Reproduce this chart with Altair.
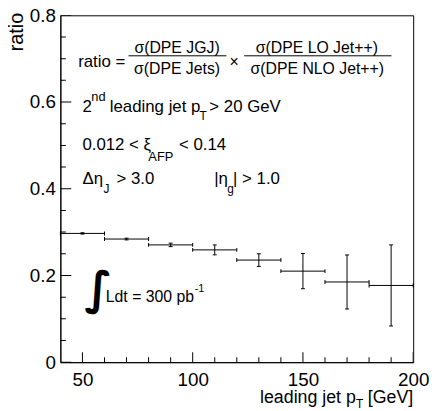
import altair as alt
import pandas as pd

# ---- data ----
bin_low = [40, 60, 80, 100, 120, 140, 160, 180]
bin_high = [60, 80, 100, 120, 140, 160, 180, 200]
bin_center = [50, 70, 90, 110, 130, 150, 170, 190]
ratio = [0.297, 0.284, 0.2705, 0.259, 0.2355, 0.210, 0.185, 0.177]
ratio_err = [0.0015, 0.002, 0.004, 0.0114, 0.0145, 0.0406, 0.0623, 0.0935]

x_tick_labels = [50, 100, 150, 200]
y_tick_labels = [0, 0.2, 0.4, 0.6, 0.8]
x_minor_ticks = [60, 70, 80, 90, 110, 120, 130, 140, 160, 170, 180, 190]
y_minor_ticks = [0.05, 0.1, 0.15, 0.25, 0.3, 0.35, 0.45, 0.5, 0.55, 0.65, 0.7, 0.75]

FONT = "Liberation Sans"
W, H = 357, 351

df = pd.DataFrame({
    "low": bin_low, "high": bin_high, "center": bin_center,
    "ratio": ratio, "err": ratio_err,
})
df["lo"] = df["ratio"] - df["err"]
df["hi"] = df["ratio"] + df["err"]

xs = alt.Scale(domain=[40, 200], nice=False, zero=False)
ys = alt.Scale(domain=[0, 0.8], nice=False, zero=False)

base = alt.Chart(df)

hbar = base.mark_rule(color="black", strokeWidth=1).encode(
    x=alt.X("low:Q", scale=xs, axis=alt.Axis(
        values=x_tick_labels, format="d", title=None, ticks=False, tickSize=0,
        labelFontSize=19, labelPadding=9, labelFont=FONT, labelColor="black",
        labelFlush=False, labelOverlap=False, grid=False,
        domainColor="black", domainWidth=1)),
    x2="high:Q",
    y=alt.Y("ratio:Q", scale=ys, axis=alt.Axis(
        values=y_tick_labels,
        labelExpr="datum.value == 0 ? '0' : format(datum.value, '.1f')",
        ticks=False, tickSize=0, labelFontSize=19, labelPadding=5, labelFont=FONT,
        labelColor="black", labelFlush=False, labelOverlap=False, grid=False,
        domainColor="black", domainWidth=1,
        title="ratio", titleFontSize=20, titleFontWeight="normal", titleFont=FONT,
        titleColor="black", titleAngle=270, titleAlign="right",
        titleBaseline="alphabetic", titleX=-38, titleY=-3)),
)

vbar = base.mark_rule(color="black", strokeWidth=1).encode(
    x=alt.X("center:Q", axis=None),
    y=alt.Y("lo:Q", axis=None),
    y2="hi:Q",
)

cap_style = dict(color="black", opacity=1, thickness=1, size=4)
cap_l = base.mark_tick(orient="vertical", **cap_style).encode(
    x=alt.X("low:Q", axis=None), y=alt.Y("ratio:Q", axis=None))
cap_r = base.mark_tick(orient="vertical", **cap_style).encode(
    x=alt.X("high:Q", axis=None), y=alt.Y("ratio:Q", axis=None))
cap_lo = base.mark_tick(orient="horizontal", **cap_style).encode(
    x=alt.X("center:Q", axis=None), y=alt.Y("lo:Q", axis=None))
cap_hi = base.mark_tick(orient="horizontal", **cap_style).encode(
    x=alt.X("center:Q", axis=None), y=alt.Y("hi:Q", axis=None))

# ---- inward axis ticks (ROOT style) ----
def yticks(vals, size):
    return alt.Chart(pd.DataFrame({"v": vals})).mark_tick(
        orient="horizontal", size=size, thickness=1, color="black", opacity=1, clip=True
    ).encode(x=alt.value(0), y=alt.Y("v:Q", axis=None))

def xticks(vals, size):
    return alt.Chart(pd.DataFrame({"v": vals})).mark_tick(
        orient="vertical", size=size, thickness=1, color="black", opacity=1, clip=True
    ).encode(y=alt.value(H), x=alt.X("v:Q", axis=None))

# ---- text annotations ----
def txt(items, size, align="left", baseline="alphabetic", font=FONT, weight="normal"):
    d = pd.DataFrame(items, columns=["t", "x", "y"])
    return alt.Chart(d).mark_text(
        align=align, baseline=baseline, fontSize=size, font=font, color="black",
        fontWeight=weight,
    ).encode(x=alt.X("x:Q", axis=None), y=alt.Y("y:Q", axis=None), text="t:N")

def hline(items):
    d = pd.DataFrame(items, columns=["x", "x2", "y"])
    return alt.Chart(d).mark_rule(color="black", strokeWidth=1).encode(
        x=alt.X("x:Q", axis=None), x2="x2:Q", y=alt.Y("y:Q", axis=None))

ann = [
    txt([["ratio =", 48.07, 0.6815]], 17),
    txt([["σ(DPE JGJ)", 92.9, 0.7141], ["σ(DPE Jets)", 92.9, 0.6639],
         ["σ(DPE LO Jet++)", 156.3, 0.7141], ["σ(DPE NLO Jet++)", 156.5, 0.6639]],
        16, align="center"),
    txt([["×", 118.74, 0.6923]], 16, align="center", baseline="middle"),
    hline([[70.92, 115.29, 0.7066], [123.36, 190.14, 0.7066]]),
    # 2nd leading jet pT > 20 GeV, cuts
    txt([["2", 49.99, 0.5773], ["leading jet p", 62.41, 0.5773],
         ["> 20 GeV", 107.54, 0.5773],
         ["0.012 < ξ", 49.99, 0.4884], ["< 0.14", 93.78, 0.4884],
         ["Δη", 49.99, 0.4103], ["> 3.0", 65.41, 0.4103],
         ["|η", 109.78, 0.4103], ["| > 1.0", 118.3, 0.4103]], 17),
    txt([["nd", 54.03, 0.6024], ["AFP", 79.9, 0.4634]], 13),
    txt([["T", 103.06, 0.5591], ["J", 59.6, 0.3897], ["g", 115.7, 0.3897]], 12),
    # integrated luminosity
    txt([["∫", 57.2, 0.1345]], 46, align="center", font="DejaVu Sans", weight="bold"),
    txt([["Ldt = 300 pb", 60.6, 0.139]], 16),
    txt([["-1", 100.9, 0.1618]], 11),
    # x-axis title
    txt([["[GeV]", 200, -0.0945]], 18, align="right"),
    txt([["leading jet p", 174.0, -0.0945]], 18, align="right"),
    txt([["T", 177.4, -0.1048]], 12, align="right"),
]

chart = alt.layer(
    hbar, vbar, cap_l, cap_r, cap_lo, cap_hi,
    yticks(y_tick_labels, 22), yticks(y_minor_ticks, 11),
    xticks(x_tick_labels, 20), xticks(x_minor_ticks, 10),
    *ann,
).resolve_axis(
    x="independent", y="independent"
).properties(
    width=W, height=H,
    padding={"left": 53, "top": 5, "right": 16, "bottom": 47},
    autosize=alt.AutoSizeParams(type="none"),
).configure(font=FONT, background="white").configure_view(
    stroke="black", strokeWidth=1
)

chart.save("out.html", embed_options={"renderer": "svg", "actions": False})
